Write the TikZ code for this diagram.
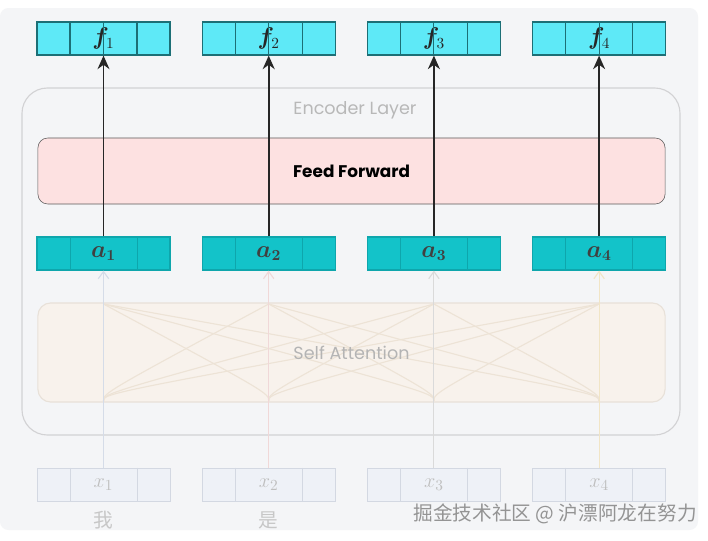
\documentclass[tikz,border=0pt]{standalone}
\usepackage{amsmath,bm}
\usepackage[no-math]{fontspec}
\setsansfont{Poppins}
\newfontfamily\cjk{Noto Sans CJK SC}
\usetikzlibrary{arrows.meta,positioning,calc}
\definecolor{Panel}{HTML}{F4F5F7}
\definecolor{EncLine}{HTML}{D2D2D4}
\definecolor{Muted}{HTML}{ABABAB}
\definecolor{FFFill}{HTML}{FDE1E1}
\definecolor{FFLine}{HTML}{5A5A5A}
\definecolor{SAFill}{HTML}{F8F2EC}
\definecolor{SALine}{HTML}{E8E1D9}
\definecolor{ATeal}{HTML}{13C3C9}
\definecolor{ATealLine}{HTML}{0EA6AC}
\definecolor{FCyan}{HTML}{5EE9F7}
\definecolor{FCyanLine}{HTML}{1C6F76}
\definecolor{XFill}{HTML}{EEF1F7}
\definecolor{XLine}{HTML}{D3D8E2}
\definecolor{FadeA}{HTML}{D5DCE8}
\definecolor{FadeB}{HTML}{F0D8D8}
\definecolor{FadeC}{HTML}{DADADA}
\definecolor{FadeD}{HTML}{F1E5C6}
\definecolor{CrossLine}{HTML}{EDE3D6}
\tikzset{
  vecbox/.style={draw,minimum width=3.325cm,minimum height=0.825cm,inner sep=0pt},
  fvec/.style={vecbox,fill=FCyan,draw=FCyanLine,thick,text=black!85,font=\fontsize{16}{18}\selectfont},
  avec/.style={vecbox,fill=ATeal,draw=ATealLine,thick,text=black!75,font=\fontsize{16}{18}\selectfont},
  xvec/.style={vecbox,fill=XFill,draw=XLine,text=black!25,font=\fontsize{15}{17}\selectfont},
  layerbox/.style={minimum width=15.675cm,inner sep=0pt},
  upArrow/.style={-{Stealth[length=3.4mm,width=3mm]},line width=1.3pt,draw=black!85},
  fadeArrow/.style={-{Straight Barb[length=1.8mm,width=2.6mm]},thick},
  crossLine/.style={draw=CrossLine,thick}
}
\begin{document}
\begin{tikzpicture}[x=0.025cm,y=-0.025cm,font=\sffamily]
  \useasboundingbox (0,0) rectangle (708,540);
  \fill[white] (0,0) rectangle (708,540);
  \fill[Panel,rounded corners=6pt] (0,8) rectangle (698,530);
  % encoder layer
  \draw[EncLine,thick,rounded corners=18pt] (22,88) rectangle (680,435);
  \node[text=Muted!85,font=\sffamily\fontsize{12.5}{14}\selectfont] (enc) at (355,110) {Encoder Layer};
  \node[layerbox,minimum height=2.475cm,fill=SAFill,draw=SALine,thick,rounded corners=9pt] (sa) at (351.5,352.5) {};

  % attention links
  \foreach \i/\cx in {1/103.5,2/268.7,3/433.9,4/599.1}{
    \coordinate (sb\i) at (\cx,401);
    \coordinate (st\i) at (\cx,304);
  }
  \foreach \i in {1,...,4}{
    \foreach \j in {1,...,4}{
      \ifnum\i=\j\else
        \draw[crossLine] (sb\i) .. controls ($(sb\i)+(0,-8)$) .. (st\j);
      \fi
    }
  }
  \node[text=Muted!90,font=\sffamily\fontsize{12.5}{14}\selectfont] (satext) at (351.5,353) {Self Attention};

  \foreach \i/\cx/\col in {1/103.5/FadeA,2/268.7/FadeB,3/433.9/FadeC,4/599.1/FadeD}{
    \node[fvec] (f\i) at (\cx,38.5) {$\bm{f}_{\i}$};
    \node[avec] (a\i) at (\cx,253.5) {$\bm{a}_{\bm{\i}}$};
    \node[xvec] (x\i) at (\cx,484.5) {$x_{\i}$};
    \draw[fadeArrow,draw=\col] (x\i.north) -- (a\i.south);
    % cell dividers
    \foreach \t in {0.25,0.75}{
      \draw[ATealLine] ($(a\i.north west)!\t!(a\i.north east)$) -- ($(a\i.south west)!\t!(a\i.south east)$);
      \draw[XLine] ($(x\i.north west)!\t!(x\i.north east)$) -- ($(x\i.south west)!\t!(x\i.south east)$);
    }
    \foreach \t in {0.25,0.5,0.75}
      \draw[FCyanLine,thick] ($(f\i.north west)!\t!(f\i.north east)$) -- ($(f\i.south west)!\t!(f\i.south east)$);
  }
  \node[text=black!22,font=\cjk\fontsize{14}{16}\selectfont] (w1) at (103.5,520) {我};
  \node[text=black!22,font=\cjk\fontsize{14}{16}\selectfont] (w2) at (268.7,520) {是};

  % feed forward
  \node[layerbox,minimum height=1.65cm,fill=FFFill,draw=FFLine,rounded corners=7pt,font=\sffamily\bfseries\fontsize{12}{14}\selectfont] (ff) at (351.5,171) {Feed Forward};
  \foreach \i in {1,...,4}
    \draw[upArrow] (a\i.north) -- (f\i.south);

  \node[text=black!42,font=\cjk\fontsize{14}{16}\selectfont] (mark) at (555,514) {掘金技术社区 @ 沪漂阿龙在努力};
\end{tikzpicture}
\end{document}
